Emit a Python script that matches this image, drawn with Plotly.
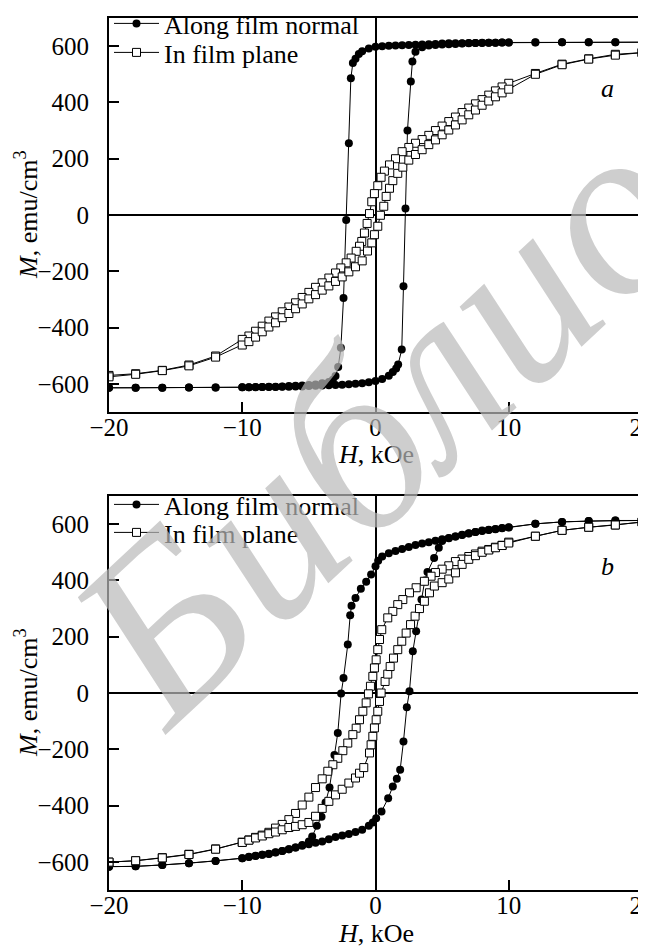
import plotly.graph_objects as go

# ---------------- panel a ----------------
a_norm_desc_H = [20, 18, 16, 14, 12,
                 10, 9.5, 9, 8.5, 8, 7.5, 7, 6.5, 6, 5.5, 5, 4.5, 4, 3.5, 3, 2.5, 2, 1.5, 1, 0.5,
                 0, -0.5, -1, -1.25, -1.5, -1.7, -1.85, -2.0, -2.2, -2.4, -2.6, -2.8, -3.0, -3.2, -3.5,
                 -4, -4.5, -5, -5.5, -6, -6.5, -7, -7.5, -8, -8.5, -9, -9.5, -10,
                 -12, -14, -16, -18, -20]
a_norm_desc_M = [614, 614, 614, 614, 614,
                 613, 613, 612, 612, 612, 611, 611, 610, 610, 610, 609, 608, 607, 606, 605, 604, 603, 602, 601, 600,
                 598, 592, 582, 572, 555, 540, 486, 255, -18, -295, -472, -540, -572, -585, -593,
                 -598, -602, -604, -606, -607, -608, -609, -610, -610, -611, -611, -612, -612,
                 -613, -613, -614, -614, -614]
a_norm_asc_H = [-20, -18, -16, -14, -12,
                -10, -9.5, -9, -8.5, -8, -7.5, -7, -6.5, -6, -5.5, -5, -4.5, -4, -3.5, -3, -2.5, -2, -1.5, -1, -0.5,
                0, 0.5, 1, 1.3, 1.55, 1.7, 1.97, 2.1, 2.25, 2.4, 2.65, 2.77, 3.0, 3.5,
                4, 4.5, 5, 5.5, 6, 6.5, 7, 7.5, 8, 8.5, 9, 9.5, 10,
                12, 14, 16, 18, 20]
a_norm_asc_M = [-614, -614, -614, -613, -613,
                -612, -612, -612, -611, -611, -611, -610, -610, -609, -609, -608, -607, -606, -605, -604, -603, -601, -600, -598, -594,
                -590, -583, -571, -558, -545, -531, -478, -253, 23, 300, 474, 545, 580, 596,
                602, 604, 606, 607, 608, 609, 610, 611, 611, 612, 612, 613, 613,
                613, 614, 614, 614, 614]

a_plane_desc_H = [20, 18, 16, 14, 12,
                  10, 9.5, 9, 8.5, 8, 7.5, 7, 6.5, 6, 5.5, 5, 4.5, 4, 3.5, 3, 2.5, 2, 1.5,
                  1.05, 0.67, 0.42, 0.17, -0.08, -0.28, -0.45, -0.63, -0.83, -1.03, -1.2, -1.45, -1.83, -2.2, -2.6,
                  -3, -3.5, -4, -4.5, -5, -5.5, -6, -6.5, -7, -7.5, -8, -8.5, -9, -9.5, -10,
                  -12, -14, -16, -18, -20]
a_plane_desc_M = [577, 571, 555, 536, 503,
                  468, 455, 441, 426, 410, 395, 380, 364, 348, 332, 316, 300, 283, 268, 255, 240, 225, 200,
                  178, 156, 134, 104, 76, 47, 5, -30, -64, -94, -111, -129, -153, -170, -188,
                  -206, -224, -241, -257, -275, -293, -312, -327, -344, -362, -377, -395, -413, -430, -442,
                  -501, -533, -552, -564, -570]
a_plane_asc_H = [-20, -18, -16, -14, -12,
                 -10, -9.5, -9, -8.5, -8, -7.5, -7, -6.5, -6, -5.5, -5, -4.5, -4, -3.5, -3, -2.5, -2,
                 -1.5, -1, -0.6, -0.28, -0.08, 0.17, 0.37, 0.62, 0.8, 1.05, 1.3, 1.67, 2.05,
                 2.5, 3, 3.5, 4, 4.5, 5, 5.5, 6, 6.5, 7, 7.5, 8, 8.5, 9, 9.5, 10,
                 12, 14, 16, 18, 20]
a_plane_asc_M = [-575, -566, -553, -536, -505,
                 -462, -450, -434, -415, -398, -383, -365, -350, -333, -316, -298, -283, -267, -252, -236, -220, -202,
                 -184, -163, -128, -99, -70, -40, -1, 31, 66, 95, 122, 148, 170,
                 195, 215, 232, 250, 267, 285, 302, 320, 338, 356, 373, 390, 405, 420, 434, 447,
                 500, 534, 554, 568, 577]

# ---------------- panel b ----------------
b_norm_desc_H = [20, 18, 16, 14, 12,
                 10, 9.5, 9, 8.5, 8, 7.5, 7, 6.5, 6, 5.5, 5, 4.5, 4, 3.5, 3, 2.5, 2, 1.5, 1,
                 0.5, 0.2, 0, -0.33, -0.7, -1.1, -1.5, -1.8, -1.9, -2.08, -2.4, -2.58, -2.83, -3.08, -3.45, -3.75, -4.05, -4.4, -4.75,
                 -5, -5.5, -6, -6.5, -7, -7.5, -8, -8.5, -9, -9.5, -10,
                 -12, -14, -16, -18, -20]
b_norm_desc_M = [613, 613, 611, 608, 601,
                 588, 585, 582, 579, 576, 572, 567, 561, 556, 551, 546, 541, 536, 531, 526, 519, 512, 505, 497,
                 485, 470, 450, 421, 395, 370, 338, 310, 276, 172, 53, -2, -142, -220, -336, -389, -440, -472, -510,
                 -528, -540, -549, -555, -561, -567, -572, -575, -578, -582, -587,
                 -597, -605, -611, -616, -617]
b_norm_asc_H = [-20, -18, -16, -14, -12,
                -10, -9.5, -9, -8.5, -8, -7.5, -7, -6.5, -6, -5.5, -5, -4.5, -4, -3.5, -3, -2.5, -2, -1.5, -1, -0.5,
                -0.2, 0.05, 0.45, 0.95, 1.3, 1.6, 1.85, 2.1, 2.35, 2.55, 2.8, 3.05, 3.45, 3.7, 3.9, 4.4, 4.75,
                5, 5.5, 6, 6.5, 7, 7.5, 8, 8.5, 9, 9.5, 10,
                12, 14, 16, 18, 20]
b_norm_asc_M = [-617, -616, -611, -605, -597,
                -587, -583, -579, -575, -571, -566, -561, -555, -549, -543, -537, -532, -528, -520, -512, -506, -501, -494, -486, -472,
                -460, -445, -421, -374, -332, -305, -273, -172, -51, 6, 148, 219, 332, 400, 430, 480, 516,
                540, 550, 556, 562, 568, 572, 577, 580, 583, 586, 589,
                601, 608, 611, 613, 613]

b_plane_desc_H = [20, 18, 16, 14, 12,
                  10, 9.5, 9, 8.5, 8, 7.5, 7, 6.5, 6, 5.5, 5, 4.5,
                  4.17, 3.67, 3.05, 2.55, 2.05, 1.67, 1.3, 0.92, 0.47, 0.3, 0.17, 0.05, -0.08, -0.2, -0.38,
                  -0.53, -0.7, -0.95, -1.2, -1.45, -1.7, -2.08, -2.45, -2.83, -3.2, -3.58,
                  -4, -4.5, -5, -5.5, -6, -6.5, -7, -7.5, -8, -8.5, -9, -9.5, -10,
                  -12, -14, -16, -18, -20]
b_plane_desc_M = [608, 597, 589, 578, 557,
                  536, 525, 518, 510, 504, 494, 485, 476, 467, 452, 440, 428,
                  415, 397, 374, 356, 332, 314, 290, 267, 225, 190, 154, 118, 89, 59, 24,
                  -3, -35, -65, -95, -125, -148, -178, -205, -232, -255, -278,
                  -305, -336, -370, -398, -428, -450, -467, -480, -495, -505, -513, -522, -530,
                  -554, -573, -585, -596, -601]
b_plane_asc_H = [-20, -18, -16, -14, -12,
                 -10, -9.5, -9, -8.5, -8, -7.5, -7, -6.5, -6, -5.5, -5, -4.5, -4, -3.5, -3, -2.5, -2, -1.5,
                 -1.2, -0.88, -0.45, -0.33, -0.2, -0.08, 0.05, 0.17, 0.3, 0.42, 0.72, 0.92, 1.1, 1.35, 1.67,
                 1.97, 2.3, 2.63, 2.97, 3.3, 3.67, 4.05, 4.42,
                 5, 5.5, 6, 6.5, 7, 7.5, 8, 8.5, 9, 9.5, 10,
                 12, 14, 16, 18, 20]
b_plane_asc_M = [-601, -596, -586, -574, -555,
                 -531, -523, -515, -508, -500, -494, -486, -478, -474, -468, -460, -438, -410, -385, -362, -342, -320, -302,
                 -285, -265, -213, -184, -154, -124, -95, -65, -30, 0, 41, 67, 94, 124, 154,
                 184, 213, 243, 273, 300, 326, 356, 380,
                 392, 405, 427, 457, 475, 488, 500, 508, 516, 524, 533,
                 557, 578, 589, 597, 607]

x_ticks = [-20, -10, 0, 10, 20]
y_ticks = [-600, -400, -200, 0, 200, 400, 600]
names = ["Along film normal", "In film plane"]
panel_letters = ["a", "b"]
watermark = "Библиотека"

SERIF = "Liberation Serif"
W, H = 646, 949
ML, MR, MT, MB = 101, 12, 10, 67
PW, PH = W - ML - MR, H - MT - MB


def py(ypix):
    """pixel row -> paper y"""
    return (H - MB - ypix) / PH


def px(xpix):
    return (xpix - ML) / PW


def minus(v):
    return ("\u2212" + str(-v)) if v < 0 else str(v)


fig = go.Figure()

circle = dict(symbol="circle", size=8, color="black", line=dict(width=0))
square = dict(symbol="square", size=8, color="white", line=dict(width=1, color="black"))
ln = dict(color="black", width=1)

panels = [
    ("x", "y", "legend", "legend2", a_norm_desc_H, a_norm_desc_M, a_norm_asc_H, a_norm_asc_M,
     a_plane_desc_H, a_plane_desc_M, a_plane_asc_H, a_plane_asc_M),
    ("x2", "y2", "legend3", "legend4", b_norm_desc_H, b_norm_desc_M, b_norm_asc_H, b_norm_asc_M,
     b_plane_desc_H, b_plane_desc_M, b_plane_asc_H, b_plane_asc_M),
]
for xa, ya, lgn, lgp, ndH, ndM, naH, naM, pdH, pdM, paH, paM in panels:
    fig.add_trace(go.Scatter(x=ndH, y=ndM, mode="lines+markers", name=names[0], marker=circle,
                             line=ln, xaxis=xa, yaxis=ya, legend=lgn, legendgroup=lgn))
    fig.add_trace(go.Scatter(x=naH, y=naM, mode="lines+markers", name=names[0], marker=circle,
                             line=ln, xaxis=xa, yaxis=ya, legend=lgn, legendgroup=lgn, showlegend=False))
    fig.add_trace(go.Scatter(x=pdH, y=pdM, mode="lines+markers", name=names[1], marker=square,
                             line=ln, xaxis=xa, yaxis=ya, legend=lgp, legendgroup=lgp))
    fig.add_trace(go.Scatter(x=paH, y=paM, mode="lines+markers", name=names[1], marker=square,
                             line=ln, xaxis=xa, yaxis=ya, legend=lgp, legendgroup=lgp, showlegend=False))

top_dom = [py(404), 1.0]
bot_dom = [0.0, py(488)]
axis_common = dict(
    showline=True, mirror=True, linecolor="black", linewidth=2,
    ticks="inside", ticklen=10, tickwidth=1.5, tickcolor="black",
    showgrid=False, zeroline=True, zerolinecolor="black", zerolinewidth=1.5,
    tickfont=dict(family=SERIF, size=25, color="black"),
    ticklabeloverflow="allow",
)
xcommon = dict(axis_common, range=[-20, 20], tickvals=x_ticks,
               ticktext=[minus(v) for v in x_ticks], ticklabelstandoff=-8)
ycommon = dict(axis_common, range=[-700, 700], tickvals=y_ticks,
               ticktext=[minus(v) for v in y_ticks], ticklabelstandoff=13)

leg_font = dict(family=SERIF, size=26, color="black")


def legend_at(top_pixel):
    return dict(x=0.0, y=py(top_pixel), xanchor="left", yanchor="top", bgcolor="rgba(0,0,0,0)",
                font=leg_font, itemwidth=45, tracegroupgap=0)


fig.update_layout(
    width=W, height=H,
    margin=dict(l=ML, r=MR, t=MT, b=MB, autoexpand=False),
    paper_bgcolor="white", plot_bgcolor="white",
    showlegend=True,
    xaxis=dict(xcommon, domain=[0, 1], anchor="y"),
    yaxis=dict(ycommon, domain=top_dom, anchor="x"),
    xaxis2=dict(xcommon, domain=[0, 1], anchor="y2"),
    yaxis2=dict(ycommon, domain=bot_dom, anchor="x2"),
    legend=legend_at(-8),
    legend2=legend_at(21),
    legend3=legend_at(473),
    legend4=legend_at(501),
)

ann_font = dict(family=SERIF, size=26, color="black")
annotations = [
    dict(text="<i>" + panel_letters[0] + "</i>", x=17.4, y=450, xref="x", yref="y", showarrow=False, font=ann_font),
    dict(text="<i>" + panel_letters[1] + "</i>", x=17.4, y=450, xref="x2", yref="y2", showarrow=False, font=ann_font),
    dict(text="<i>M</i>, emu/cm<sup>3</sup>", x=px(18), y=0.5, xref="paper", yref="y domain",
         textangle=-90, showarrow=False, font=ann_font, xanchor="center", yanchor="middle"),
    dict(text="<i>M</i>, emu/cm<sup>3</sup>", x=px(18), y=0.5, xref="paper", yref="y2 domain",
         textangle=-90, showarrow=False, font=ann_font, xanchor="center", yanchor="middle"),
    dict(text="<i>H</i>, kOe", x=0.5, y=py(446), xref="paper", yref="paper",
         showarrow=False, font=ann_font, xanchor="center", yanchor="middle"),
    dict(text="<i>H</i>, kOe", x=0.5, y=py(925), xref="paper", yref="paper",
         showarrow=False, font=ann_font, xanchor="center", yanchor="middle"),
    # watermark
    dict(text=watermark, x=px(560), y=py(238), xref="paper", yref="paper",
         textangle=-43, showarrow=False, xanchor="center", yanchor="middle",
         font=dict(family=SERIF, size=245, color="rgba(185,185,185,0.7)", style="italic")),
]
fig.update_layout(annotations=annotations)

fig.write_html("out.html")
